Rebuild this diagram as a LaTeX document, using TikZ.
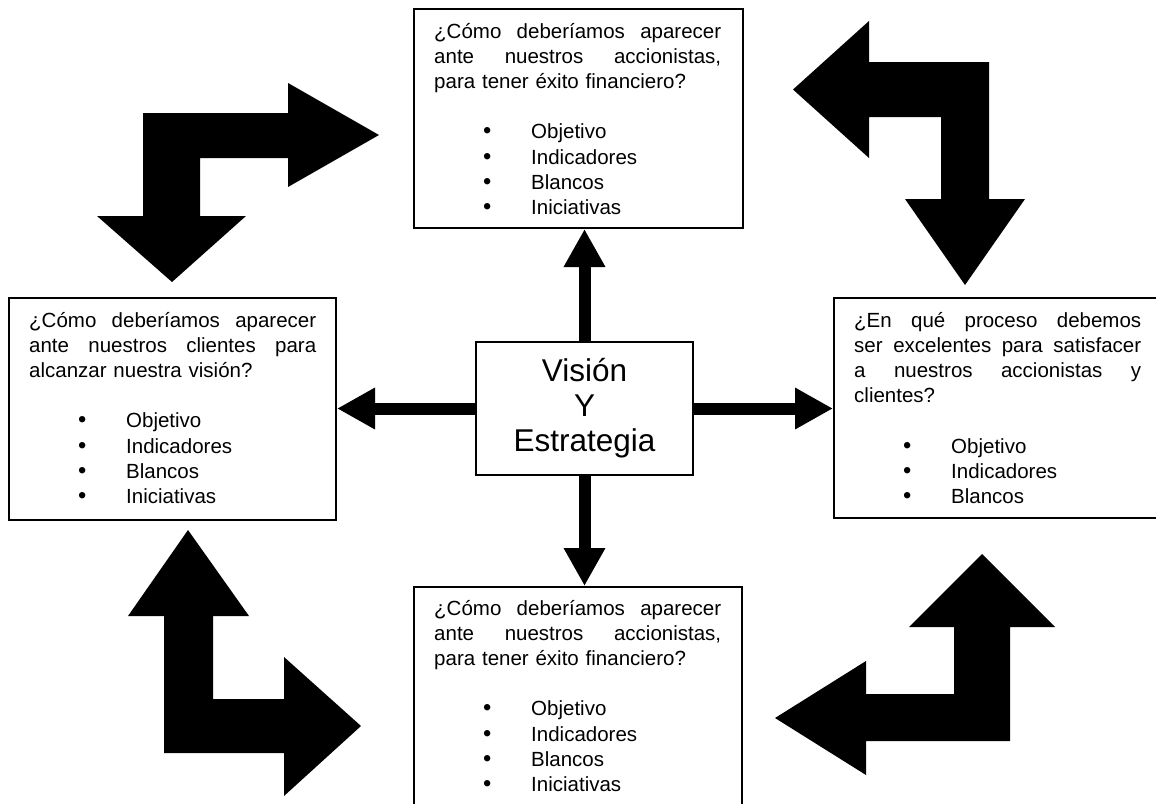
\documentclass[tikz,border=0pt]{standalone}
\usepackage{fontspec}
\setmainfont{Liberation Sans}
\usetikzlibrary{arrows.meta}

% a fully justified line (words separated by \hfill), and a bulleted item line
\newcommand\jline[1]{\leavevmode\hbox to 287pt{#1}\\}
\newcommand\bitem[1]{\hspace*{53pt}\makebox[0pt]{\scalebox{1.15}{\textbullet}}\hspace*{44pt}#1\\}

\begin{document}
\begin{tikzpicture}[x=1pt,y=-1pt,
  panel/.style={draw=black, line width=2pt, fill=white, inner sep=0pt, anchor=north west},
  paneltext/.style={anchor=base west, inner sep=0pt, text width=287pt,
    font=\fontsize{20.5pt}{25.3pt}\selectfont},
  hub/.style={draw=black, line width=2pt, fill=white, inner sep=0pt, align=center,
    minimum width=217pt, minimum height=133pt, font=\fontsize{31.5pt}{35pt}\selectfont},
  fatarrow/.style={line width=12pt, -{Triangle[length=38pt,width=39pt]}},
  bent/.style={fill=black}]

\clip (0,0) rectangle (1156,803);
\fill[white] (0,0) rectangle (1156,803);

% four perspective panels
\node[panel, minimum width=329pt, minimum height=219pt] (topbox) at (413,8) {};
\node[panel, minimum width=327pt, minimum height=222pt] (leftbox) at (8,297) {};
\node[panel, minimum width=345pt, minimum height=220pt] (rightbox) at (833,297) {};
\node[panel, minimum width=328pt, minimum height=250pt] (botbox) at (413,586) {};

\node[paneltext] (toptext) at (434,38) {%
  \jline{¿Cómo\hfill deberíamos\hfill aparecer}
  \jline{ante\hfill nuestros\hfill accionistas,}
  para tener éxito financiero?\\[25pt]
  \bitem{Objetivo}
  \bitem{Indicadores}
  \bitem{Blancos}
  \bitem{Iniciativas}};

\node[paneltext] (lefttext) at (29,327) {%
  \jline{¿Cómo\hfill deberíamos\hfill aparecer}
  \jline{ante\hfill nuestros\hfill clientes\hfill para}
  alcanzar nuestra visión?\\[25pt]
  \bitem{Objetivo}
  \bitem{Indicadores}
  \bitem{Blancos}
  \bitem{Iniciativas}};

\node[paneltext] (righttext) at (854,327) {%
  \jline{¿En\hfill qué\hfill proceso\hfill debemos}
  \jline{ser\hfill excelentes\hfill para\hfill satisfacer}
  \jline{a\hfill nuestros\hfill accionistas\hfill y}
  clientes?\\[25pt]
  \bitem{Objetivo}
  \bitem{Indicadores}
  \bitem{Blancos}};

\node[paneltext] (bottext) at (434,615) {%
  \jline{¿Cómo\hfill deberíamos\hfill aparecer}
  \jline{ante\hfill nuestros\hfill accionistas,}
  para tener éxito financiero?\\[25pt]
  \bitem{Objetivo}
  \bitem{Indicadores}
  \bitem{Blancos}
  \bitem{Iniciativas}};

% central box
\node[hub] (vis) at (584.5,408.5) {Visión\\Y\\Estrategia};

% arrows from the centre to each panel
\draw[fatarrow] (vis.north) -- (vis.north |- topbox.south);
\draw[fatarrow] (vis.south) -- (vis.south |- botbox.north);
\draw[fatarrow] (vis.west) -- (vis.west -| leftbox.east);
\draw[fatarrow] (vis.east) -- (vis.east -| rightbox.west);

% bent double arrows between the panels
\fill[bent] (143,113) -- (288,113) -- (288,83) -- (379,135) -- (288,187) -- (288,158)
  -- (200,158) -- (200,216) -- (246,216) -- (172,282) -- (97,216) -- (143,216) -- cycle;
\fill[bent] (989,62) -- (869,62) -- (869,21) -- (793,89.5) -- (869,158) -- (869,117)
  -- (941,117) -- (941,199) -- (905,199) -- (965,285) -- (1025,199) -- (989,199) -- cycle;
\fill[bent] (164,753) -- (164,616) -- (128,616) -- (188,530) -- (249,616) -- (213,616)
  -- (213,699) -- (284,699) -- (284,657) -- (361,726) -- (284,796) -- (284,753) -- cycle;
\fill[bent] (1010,741) -- (866,741) -- (866,775) -- (775,718) -- (866,661) -- (866,694)
  -- (954,694) -- (954,627) -- (909,627) -- (982,554) -- (1055,627) -- (1010,627) -- cycle;
\end{tikzpicture}
\end{document}
